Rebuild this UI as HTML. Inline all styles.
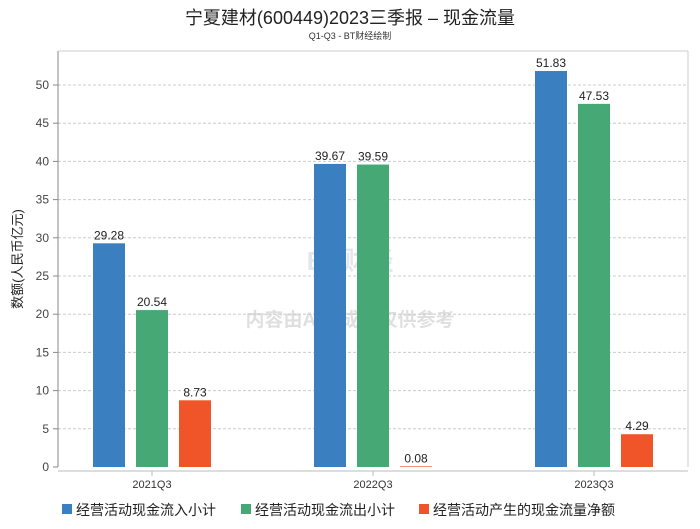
<!DOCTYPE html>
<html><head><meta charset="utf-8"><style>
body{margin:0;background:#fff;font-family:"Liberation Sans","Noto Sans CJK SC",sans-serif}
</style></head><body>
<svg width="700" height="524" xmlns="http://www.w3.org/2000/svg" font-family="Liberation Sans, Noto Sans CJK SC, sans-serif">
<text x="350" y="24" text-anchor="middle" font-size="18" fill="#222">宁夏建材(600449)2023三季报 – 现金流量</text>
<text x="350" y="39" text-anchor="middle" font-size="9" fill="#333">Q1-Q3 - BT财经绘制</text>
<g opacity="0.12">
<text x="350" y="270" text-anchor="middle" font-size="26" font-weight="bold" fill="#246">BT财经</text>
<text x="350" y="326" text-anchor="middle" font-size="19" font-weight="bold" fill="#000">内容由AI生成，仅供参考</text>
</g>
<g id="grid"></g><g id="bars"></g>
<line x1="58" y1="51" x2="58" y2="467" stroke="#888"/>
<line x1="58" y1="471" x2="688" y2="471" stroke="#bbb"/>
<line x1="688" y1="51" x2="688" y2="467" stroke="#ccc"/>
<line x1="58" y1="51" x2="688" y2="51" stroke="#ccc"/>
<text transform="translate(22,259) rotate(-90)" text-anchor="middle" font-size="13" fill="#222">数额(人民币亿元)</text>
<g id="legend" font-size="14" fill="#222">
<rect x="62" y="504" width="10" height="10" fill="#3a7fc0"/><text x="76" y="515">经营活动现金流入小计</text>
<rect x="241" y="504" width="10" height="10" fill="#46a874"/><text x="255" y="515">经营活动现金流出小计</text>
<rect x="419" y="504" width="10" height="10" fill="#f0552a"/><text x="433" y="515">经营活动产生的现金流量净额</text>
</g>
</svg>
<script>
const categories=["2021Q3","2022Q3","2023Q3"];
const inflow=[29.28,39.67,51.83];
const outflow=[20.54,39.59,47.53];
const net=[8.73,0.08,4.29];
const yTicks=[0,5,10,15,20,25,30,35,40,45,50];
const NS="http://www.w3.org/2000/svg";
const y=v=>467-v*7.64;
const xc=i=>152+i*221;
const grid=document.getElementById('grid'),bars=document.getElementById('bars');
function mk(t,a,p){const e=document.createElementNS(NS,t);for(const k in a)e.setAttribute(k,a[k]);p.appendChild(e);return e;}
yTicks.forEach(t=>{
 if(t>0){const l=mk('line',{x1:58,x2:688,y1:y(t),y2:y(t),stroke:'#ccc','stroke-dasharray':'3,2'},grid);
 
 }
 mk('line',{x1:53,x2:58,y1:y(t),y2:y(t),stroke:'#888'},grid);
 const tx=mk('text',{x:49,y:y(t)+4,'text-anchor':'end','font-size':12,fill:'#444'},grid);tx.textContent=t;
 
 
});
const series=[[inflow,'#3a7fc0','inflow'],[outflow,'#46a874','outflow'],[net,'#f0552a','net']];
categories.forEach((c,i)=>{
 mk('line',{x1:xc(i),x2:xc(i),y1:471,y2:476,stroke:'#bbb'},grid);
 const tx=mk('text',{x:xc(i),y:488,'text-anchor':'middle','font-size':11,fill:'#333'},grid);tx.textContent=c;
 
 
 series.forEach((s,j)=>{
  const v=s[0][i],cx=xc(i)+(j-1)*43;
  const r=mk('rect',{x:cx-16,y:y(v),width:32,height:467-y(v),fill:s[1]},bars);
  
  
  const lb=mk('text',{x:cx,y:y(v)-4,'text-anchor':'middle','font-size':12,fill:'#222'},bars);lb.textContent=v.toFixed(2);
  
  
 });
});
</script>
</body></html>
